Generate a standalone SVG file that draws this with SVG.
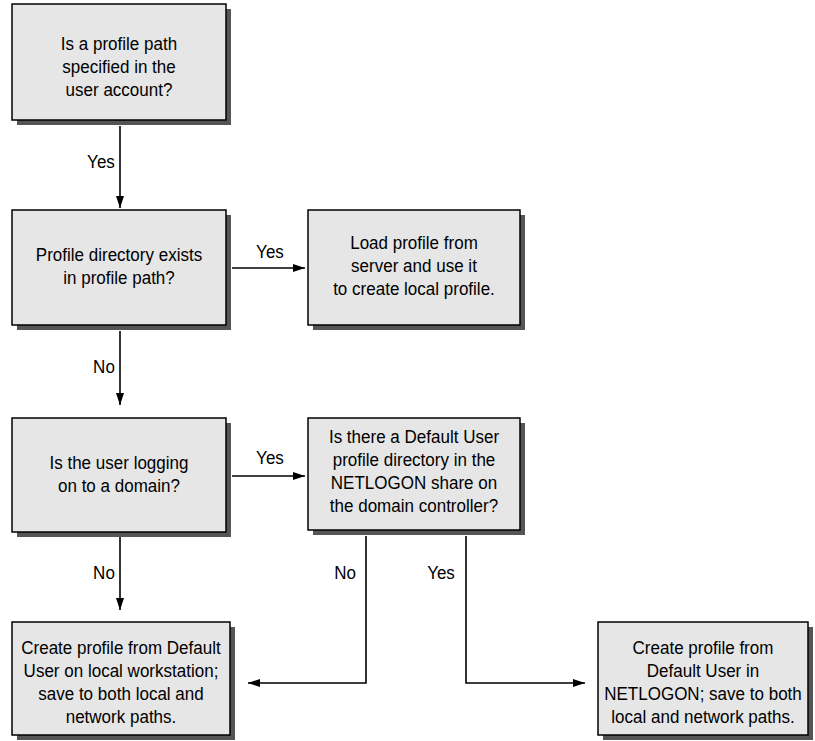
<svg xmlns="http://www.w3.org/2000/svg" width="815" height="741" viewBox="0 0 815 741">
<style>
.shadow{fill:#555}
.box{fill:#e6e6e6;stroke:#000;stroke-width:1.5}
text{font-family:"Liberation Sans",Arial,sans-serif;font-size:18.5px;fill:#000;text-anchor:middle;transform-box:fill-box;transform-origin:center;transform:scaleX(0.92)}
.conn{fill:none;stroke:#000;stroke-width:1.6}
</style>
<defs>
<marker id="arr" viewBox="0 0 12 8" refX="12" refY="4" markerWidth="12" markerHeight="8" markerUnits="userSpaceOnUse" orient="auto">
<path d="M0,0 L12,4 L0,8 Z" fill="#000"/>
</marker>
</defs>
<rect width="815" height="741" fill="#fff"/>
<g id="n1">
<rect class="shadow" x="17" y="9" width="214" height="116"/>
<rect class="box" x="12" y="4" width="214" height="116"/>
<text x="119" y="50">Is a profile path</text>
<text x="119" y="73">specified in the</text>
<text x="119" y="96">user account?</text>
</g>
<g id="n2">
<rect class="shadow" x="17" y="215" width="214" height="115"/>
<rect class="box" x="12" y="210" width="214" height="115"/>
<text x="119" y="261">Profile directory exists</text>
<text x="119" y="284">in profile path?</text>
</g>
<g id="n3">
<rect class="shadow" x="313" y="215" width="212" height="115"/>
<rect class="box" x="308" y="210" width="212" height="115"/>
<text x="414" y="249">Load profile from</text>
<text x="414" y="272">server and use it</text>
<text x="414" y="295">to create local profile.</text>
</g>
<g id="n4">
<rect class="shadow" x="17" y="423" width="214" height="114"/>
<rect class="box" x="12" y="418" width="214" height="114"/>
<text x="119" y="469">Is the user logging</text>
<text x="119" y="492">on to a domain?</text>
</g>
<g id="n5">
<rect class="shadow" x="313" y="423" width="212" height="112"/>
<rect class="box" x="308" y="418" width="212" height="112"/>
<text x="414" y="443">Is there a Default User</text>
<text x="414" y="466">profile directory in the</text>
<text x="414" y="489">NETLOGON share on</text>
<text x="414" y="512">the domain controller?</text>
</g>
<g id="n6">
<rect class="shadow" x="17" y="627" width="218" height="113"/>
<rect class="box" x="12" y="622" width="218" height="113"/>
<text x="121" y="654">Create profile from Default</text>
<text x="121" y="677">User on local workstation;</text>
<text x="121" y="700">save to both local and</text>
<text x="121" y="723">network paths.</text>
</g>
<g id="n7">
<rect class="shadow" x="603" y="627" width="210" height="113"/>
<rect class="box" x="598" y="622" width="210" height="113"/>
<text x="703" y="654">Create profile from</text>
<text x="703" y="677">Default User in</text>
<text x="703" y="700">NETLOGON; save to both</text>
<text x="703" y="723">local and network paths.</text>
</g>
<g id="connectors">
<line class="conn" x1="120" y1="126" x2="120" y2="208" marker-end="url(#arr)"/>
<text x="101" y="168">Yes</text>
<line class="conn" x1="232" y1="268" x2="305" y2="268" marker-end="url(#arr)"/>
<text x="270" y="258">Yes</text>
<line class="conn" x1="120" y1="331" x2="120" y2="405" marker-end="url(#arr)"/>
<text x="104" y="373">No</text>
<line class="conn" x1="232" y1="476" x2="305" y2="476" marker-end="url(#arr)"/>
<text x="270" y="464">Yes</text>
<line class="conn" x1="120" y1="537" x2="120" y2="610" marker-end="url(#arr)"/>
<text x="104" y="579">No</text>
<polyline class="conn" points="366,536 366,683 248,683" marker-end="url(#arr)"/>
<text x="345" y="579">No</text>
<polyline class="conn" points="466,536 466,683 585,683" marker-end="url(#arr)"/>
<text x="441" y="579">Yes</text>
</g>
</svg>
